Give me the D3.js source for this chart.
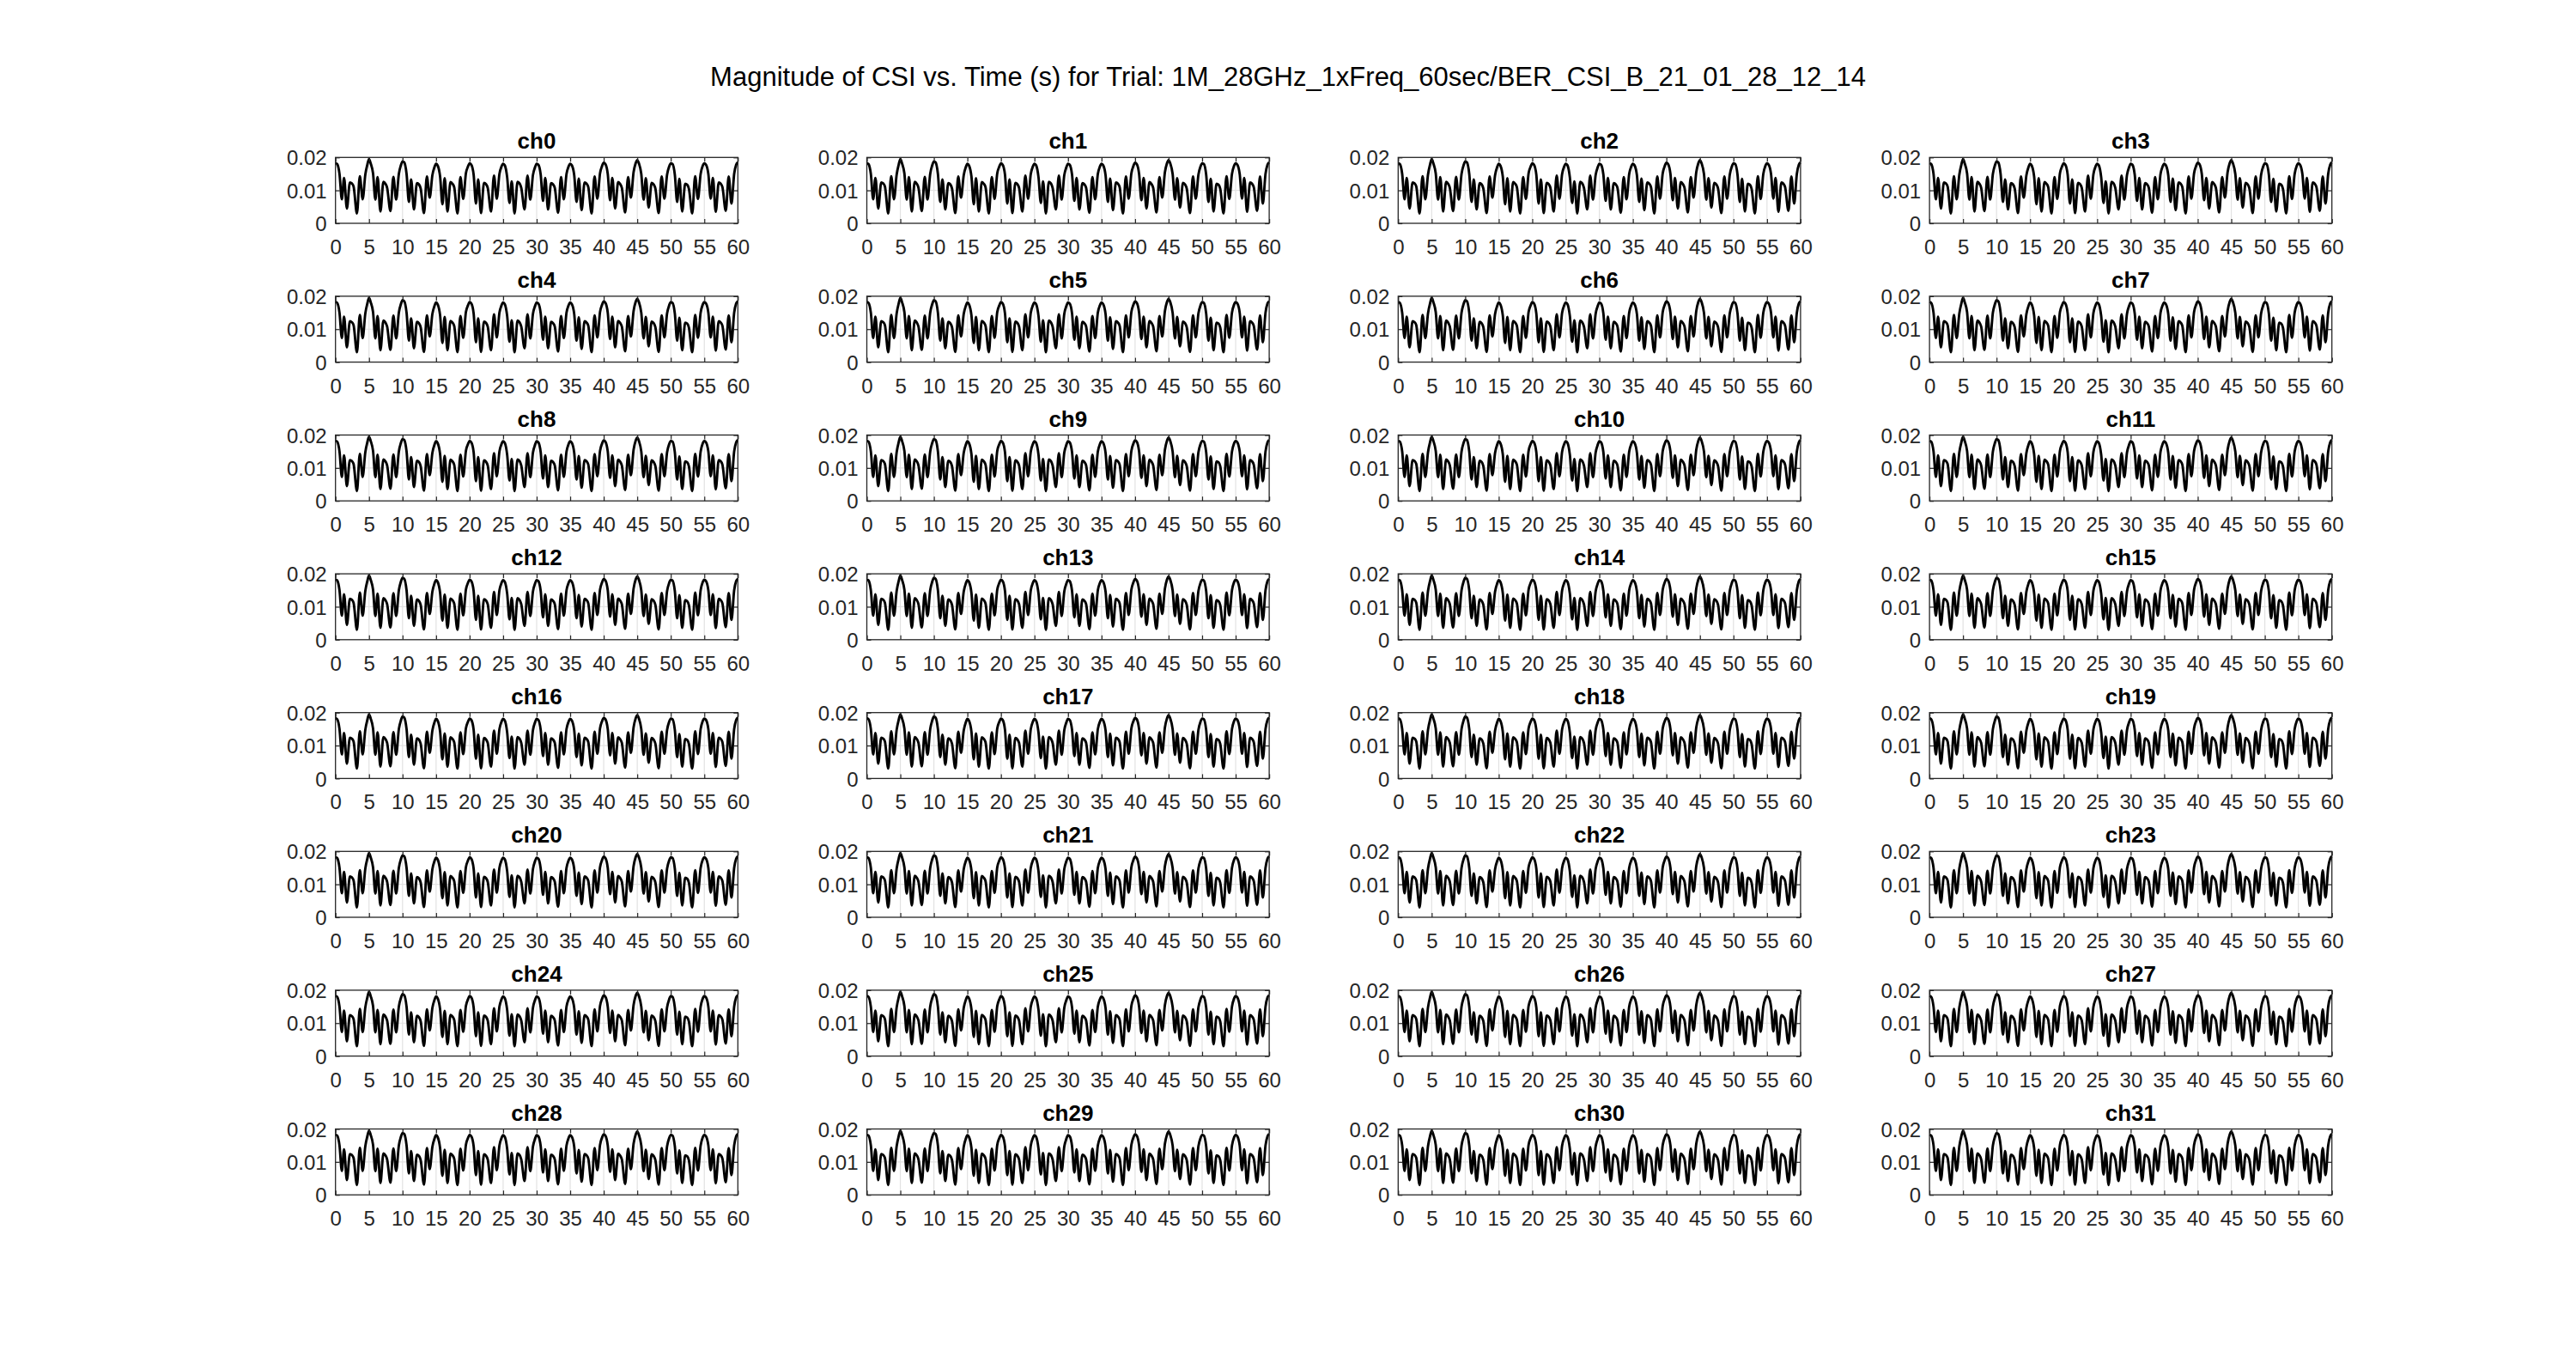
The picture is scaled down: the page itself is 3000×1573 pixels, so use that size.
<!DOCTYPE html>
<html><head><meta charset="utf-8">
<script src="https://cdn.jsdelivr.net/npm/d3@7"></script>
<style>html,body{margin:0;padding:0;background:#fff}svg{display:block}</style>
</head><body>
<script>
const figureTitle = "Magnitude of CSI vs. Time (s) for Trial: 1M_28GHz_1xFreq_60sec/BER_CSI_B_21_01_28_12_14";
const channels = ["ch0","ch1","ch2","ch3","ch4","ch5","ch6","ch7","ch8","ch9","ch10","ch11","ch12","ch13","ch14","ch15",
  "ch16","ch17","ch18","ch19","ch20","ch21","ch22","ch23","ch24","ch25","ch26","ch27","ch28","ch29","ch30","ch31"];
const timeTicks = [0,5,10,15,20,25,30,35,40,45,50,55,60];
const magTicks = [0,0.01,0.02];
const magTickLabels = ["0","0.01","0.02"];

// CSI magnitude trace (read from ch0; the channels are visually the same)
const csiTime = [
  0,0.25,0.6,0.95,1.28,1.7,2.15,2.45,2.7,3.2,3.63,4.05,4.45,4.75,
  5,5.25,5.6,5.95,6.28,6.7,7.15,7.45,7.7,8.2,8.63,9.05,9.45,9.75,
  10,10.25,10.6,10.95,11.28,11.7,12.15,12.45,12.7,13.2,13.63,14.05,14.45,14.75,
  15,15.25,15.6,15.95,16.28,16.7,17.15,17.45,17.7,18.2,18.63,19.05,19.45,19.75,
  20,20.25,20.6,20.95,21.28,21.7,22.15,22.45,22.7,23.2,23.63,24.05,24.45,24.75,
  25,25.25,25.6,25.95,26.28,26.7,27.15,27.45,27.7,28.2,28.63,29.05,29.45,29.75,
  30,30.25,30.6,30.95,31.28,31.7,32.15,32.45,32.7,33.2,33.63,34.05,34.45,34.75,
  35,35.25,35.6,35.95,36.28,36.7,37.15,37.45,37.7,38.2,38.63,39.05,39.45,39.75,
  40,40.25,40.6,40.95,41.28,41.7,42.15,42.45,42.7,43.2,43.63,44.05,44.45,44.75,
  45,45.25,45.6,45.95,46.28,46.7,47.15,47.45,47.7,48.2,48.63,49.05,49.45,49.75,
  50,50.25,50.6,50.95,51.28,51.7,52.15,52.45,52.7,53.2,53.63,54.05,54.45,54.75,
  55,55.25,55.6,55.95,56.28,56.7,57.15,57.45,57.7,58.2,58.63,59.05,59.45,59.75,
  60];
const csiMag = [
  0.0183,0.0180,0.0150,0.0073,0.0138,0.0045,0.0124,0.0121,0.0112,0.0030,0.0143,0.0073,0.0148,0.0178,
  0.0195,0.0182,0.0152,0.0072,0.0140,0.0036,0.0126,0.0120,0.0108,0.0037,0.0141,0.0072,0.0150,0.0176,
  0.0188,0.0185,0.0150,0.0065,0.0133,0.0042,0.0122,0.0118,0.0106,0.0031,0.0142,0.0078,0.0146,0.0170,
  0.0181,0.0175,0.0142,0.0058,0.0137,0.0036,0.0125,0.0120,0.0110,0.0030,0.0140,0.0074,0.0152,0.0172,
  0.0182,0.0178,0.0148,0.0060,0.0133,0.0031,0.0123,0.0119,0.0108,0.0036,0.0145,0.0075,0.0150,0.0172,
  0.0181,0.0176,0.0140,0.0062,0.0127,0.0030,0.0126,0.0121,0.0108,0.0042,0.0145,0.0072,0.0147,0.0170,
  0.0181,0.0178,0.0148,0.0068,0.0138,0.0042,0.0122,0.0118,0.0108,0.0032,0.0140,0.0073,0.0150,0.0172,
  0.0181,0.0176,0.0146,0.0065,0.0136,0.0040,0.0124,0.0120,0.0110,0.0030,0.0142,0.0075,0.0152,0.0174,
  0.0184,0.0180,0.0150,0.0070,0.0138,0.0045,0.0125,0.0119,0.0108,0.0033,0.0140,0.0078,0.0155,0.0182,
  0.0192,0.0182,0.0150,0.0072,0.0137,0.0048,0.0123,0.0118,0.0106,0.0031,0.0142,0.0075,0.0148,0.0172,
  0.0182,0.0180,0.0148,0.0065,0.0135,0.0036,0.0120,0.0117,0.0105,0.0030,0.0143,0.0074,0.0150,0.0174,
  0.0182,0.0178,0.0150,0.0075,0.0138,0.0035,0.0124,0.0120,0.0110,0.0038,0.0142,0.0060,0.0150,0.0178,
  0.0185];

const W = 3000, H = 1573;
const nCols = 4;
const colLeft = [390.7, 1009.5, 1628.3, 2247.1];
const plotW = 468.6, plotH = 76.7;
const rowTop0 = 183.3, rowPitch = 161.6;
const ink = "#262626";
const fontStack = "'Liberation Sans', Arial, Helvetica, sans-serif";

const svg = d3.select("body").append("svg").attr("width", W).attr("height", H)
  .style("font-family", fontStack);
svg.append("rect").attr("width", W).attr("height", H).attr("fill", "#fff");

svg.append("text").attr("x", 1500).attr("y", 100).attr("text-anchor", "middle")
  .attr("font-size", 31).attr("fill", "#000").text(figureTitle);

const points = csiTime.map((t, i) => ({t, v: csiMag[i]}));

channels.forEach((name, i) => {
  const c = i % nCols, r = Math.floor(i / nCols);
  const g = svg.append("g").attr("transform", `translate(${colLeft[c]},${rowTop0 + r * rowPitch})`);
  const x = d3.scaleLinear().domain([0, 60]).range([0, plotW]);
  const y = d3.scaleLinear().domain([0, 0.02]).range([plotH, 0]);

  // grid
  g.append("g").selectAll("line").data(timeTicks.slice(1, -1)).join("line")
    .attr("x1", d => x(d)).attr("x2", d => x(d)).attr("y1", 0).attr("y2", plotH)
    .attr("stroke", "#e2e2e2").attr("stroke-width", 1.2);
  g.append("g").selectAll("line").data(magTicks.slice(1, -1)).join("line")
    .attr("x1", 0).attr("x2", plotW).attr("y1", d => y(d)).attr("y2", d => y(d))
    .attr("stroke", "#e2e2e2").attr("stroke-width", 1.2);

  // data line
  const line = d3.line().x(d => x(d.t)).y(d => y(d.v)).curve(d3.curveMonotoneX);
  g.append("path").datum(points).attr("d", line).attr("fill", "none")
    .attr("stroke", "#000").attr("stroke-width", 2.9).attr("stroke-linejoin", "round");

  // axes
  const xb = g.append("g").attr("transform", `translate(0,${plotH})`)
    .call(d3.axisBottom(x).tickValues(timeTicks).tickFormat(d3.format("d")).tickSize(-5).tickPadding(19));
  const xt = g.append("g").call(d3.axisTop(x).tickValues(timeTicks).tickFormat("").tickSize(-5));
  const yl = g.append("g")
    .call(d3.axisLeft(y).tickValues(magTicks).tickFormat((d, k) => magTickLabels[k]).tickSize(-5).tickPadding(10));
  const yr = g.append("g").attr("transform", `translate(${plotW},0)`)
    .call(d3.axisRight(y).tickValues(magTicks).tickFormat("").tickSize(-5));
  [xb, xt, yl, yr].forEach(a => {
    a.select(".domain").remove();
    a.selectAll(".tick line").attr("stroke", ink).attr("stroke-width", 1.2);
    a.selectAll(".tick text").attr("fill", ink).attr("font-size", 24)
      .style("font-family", fontStack);
  });
  yl.selectAll(".tick text").attr("dy", "0.36em");

  g.append("rect").attr("x", 0).attr("y", 0).attr("width", plotW).attr("height", plotH)
    .attr("fill", "none").attr("stroke", ink).attr("stroke-width", 1.3);

  g.append("text").attr("x", plotW / 2).attr("y", -10).attr("text-anchor", "middle")
    .attr("font-size", 26).attr("font-weight", "bold").attr("fill", "#000").text(name);
});
</script>
</body></html>
